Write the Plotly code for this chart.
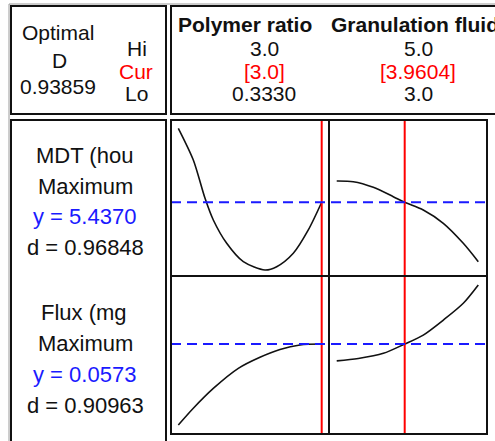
import plotly.graph_objects as go

# ---------------- data ----------------
factors = ["Polymer ratio", "Granulation fluid"]
factor_hi = [3.0, 5.0]
factor_cur = [3.0, 3.9604]
factor_lo = [0.3330, 3.0]
hi_labels = ["3.0", "5.0"]
cur_labels = ["[3.0]", "[3.9604]"]
lo_labels = ["0.3330", "3.0"]

responses = ["MDT (hou", "Flux (mg"]
goals = ["Maximum", "Maximum"]
y_opt = [5.4370, 0.0573]
d_values = [0.96848, 0.90963]
composite_D = 0.93859

mdt_poly_x = [0.333, 0.612, 0.830, 0.984, 1.233, 1.542, 1.945, 2.163, 2.472, 2.751, 3.0]
mdt_poly_y = [7.904, 6.847, 5.570, 4.847, 4.070, 3.457, 3.180, 3.290, 3.737, 4.514, 5.437]
mdt_fluid_x = [3.0, 3.234, 3.517, 3.799, 3.9604, 4.223, 4.506, 4.788, 5.0]
mdt_fluid_y = [6.147, 6.124, 5.937, 5.624, 5.437, 5.180, 4.737, 4.070, 3.457]

flux_poly_x = [0.333, 0.612, 0.984, 1.449, 1.852, 2.224, 2.596, 3.0]
flux_poly_y = [0.0303, 0.0359, 0.0425, 0.0492, 0.0529, 0.0555, 0.0570, 0.0573]
flux_fluid_x = [3.0, 3.305, 3.659, 3.9604, 4.223, 4.506, 4.788, 5.0]
flux_fluid_y = [0.0517, 0.0525, 0.0542, 0.0573, 0.0603, 0.0653, 0.0709, 0.0770]

# ---------------- layout helpers ----------------
W, H = 495, 441
def px(x):
    return x / W
def py(y):
    return 1 - y / H

FONT = "Liberation Sans, Arial, sans-serif"
BLACK = "#111111"
RED = "#ff0000"
BLUE = "#1a1aff"

col_x = [(171, 329), (329, 487)]
row_y = [(120, 276), (276, 434)]
x_ranges = [[0.197, 3.136], [2.891, 5.123]]
y_ranges = [[2.98, 8.18], [0.0273, 0.0800]]

fig = go.Figure()

curves = [
    (mdt_poly_x, mdt_poly_y, 0, 0),
    (mdt_fluid_x, mdt_fluid_y, 0, 1),
    (flux_poly_x, flux_poly_y, 1, 0),
    (flux_fluid_x, flux_fluid_y, 1, 1),
]

def axis_id(r, c):
    n = r * 2 + c + 1
    return ("" if n == 1 else str(n))

for xs, ys, r, c in curves:
    aid = axis_id(r, c)
    fig.add_trace(go.Scatter(
        x=xs, y=ys, mode="lines",
        line=dict(color=BLACK, width=1.6, shape="spline", smoothing=0.8),
        xaxis="x" + aid, yaxis="y" + aid, showlegend=False, hoverinfo="skip"))

layout_axes = {}
for r in range(2):
    for c in range(2):
        aid = axis_id(r, c)
        layout_axes["xaxis" + aid] = dict(
            domain=[px(col_x[c][0]), px(col_x[c][1])], range=x_ranges[c],
            anchor="y" + aid, visible=False)
        layout_axes["yaxis" + aid] = dict(
            domain=[py(row_y[r][1]), py(row_y[r][0])], range=y_ranges[r],
            anchor="x" + aid, visible=False)

shapes = []
LW = 2
# red current-setting lines (span both rows)
for c in range(2):
    shapes.append(dict(type="line", xref="x" + axis_id(0, c), yref="paper",
                       x0=factor_cur[c], x1=factor_cur[c],
                       y0=py(row_y[1][1]), y1=py(row_y[0][0]),
                       line=dict(color=RED, width=2)))
# blue dashed predicted response lines
for r in range(2):
    shapes.append(dict(type="line", xref="paper", yref="y" + axis_id(r, 0),
                       x0=px(col_x[0][0]), x1=px(col_x[1][1]),
                       y0=y_opt[r], y1=y_opt[r],
                       line=dict(color=BLUE, width=2, dash="10px,6px")))

def rect(x0, y0, x1, y1, color=BLACK, w=LW):
    shapes.append(dict(type="rect", xref="paper", yref="paper",
                       x0=px(x0), x1=px(x1), y0=py(y1), y1=py(y0),
                       line=dict(color=color, width=w), fillcolor="rgba(0,0,0,0)"))

def hline(x0, x1, y, color=BLACK, w=LW):
    shapes.append(dict(type="line", xref="paper", yref="paper",
                       x0=px(x0), x1=px(x1), y0=py(y), y1=py(y),
                       line=dict(color=color, width=w)))

def vline(x, y0, y1, color=BLACK, w=LW):
    shapes.append(dict(type="line", xref="paper", yref="paper",
                       x0=px(x), x1=px(x), y0=py(y0), y1=py(y1),
                       line=dict(color=color, width=w)))

# outer light frame
hline(9, 500, 4, color="#9a9a9a", w=1)
vline(9, 4, 445, color="#9a9a9a", w=1)
# header boxes
rect(11, 6, 166, 114)
rect(171, 6, 510, 114)
# left label column
rect(11, 120, 166, 460)
# plot panels
rect(171, 120, 487, 434)
vline(329, 120, 434)
hline(171, 487, 276)

ann = []
def text(x, y, s, color=BLACK, size=21, bold=False, xanchor="center"):
    ann.append(dict(x=px(x), y=py(y), xref="paper", yref="paper", text=(f"<b>{s}</b>" if bold else s),
                    showarrow=False, xanchor=xanchor, yanchor="middle",
                    font=dict(family=FONT, size=size, color=color)))

# header left
text(58, 33, "Optimal")
text(59, 61, "D")
text(58, 86, f"{composite_D:.5f}")
text(137, 48, "Hi")
text(136, 71, "Cur", color=RED)
text(136, 93, "Lo")

# factor headers
factor_cx = [264, 418]
text(245, 25, factors[0], bold=True)
text(329, 25, factors[1], bold=True, xanchor="left")
for c in range(2):
    text(factor_cx[c], 48, hi_labels[c])
    text(factor_cx[c], 71, cur_labels[c], color=RED)
    text(factor_cx[c], 93, lo_labels[c])

# response labels
row_text_y = [[155, 186, 216, 247], [312, 343, 374, 405]]
y_fmt = [f"{y_opt[0]:.4f}", f"{y_opt[1]:.4f}"]
for r in range(2):
    ty = row_text_y[r]
    text(84, ty[0], responses[r], size=22)
    text(85, ty[1], goals[r], size=22)
    text(84, ty[2], f"y = {y_fmt[r]}", color=BLUE, size=22)
    text(85, ty[3], f"d = {d_values[r]:.5f}", size=22)

fig.update_layout(
    width=W, height=H, margin=dict(l=0, r=0, t=0, b=0),
    paper_bgcolor="white", plot_bgcolor="white",
    shapes=shapes, annotations=ann, showlegend=False,
    **layout_axes)

fig.write_html("out.html")
